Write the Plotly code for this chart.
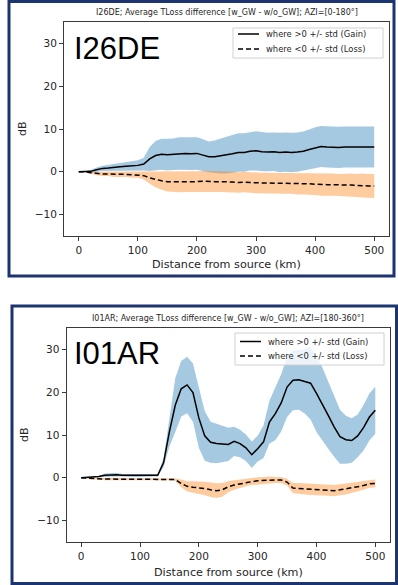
import numpy as np
import plotly.graph_objects as go

# ---------------- data ----------------
distance_km = list(range(0, 501, 10))

# Panel 1: I26DE, AZI=[0-180°]
i26_gain = [0.0, 0.0, 0.1, 0.5, 0.8, 0.9, 1.1, 1.2, 1.3, 1.4, 1.5,
            1.8, 3.0, 3.8, 4.1, 4.0, 4.1, 4.3, 4.3, 4.2, 4.3, 3.9, 3.5, 3.5, 3.7,
            3.9, 4.2, 4.5, 4.5, 4.8, 4.9, 4.7, 4.6, 4.7, 4.5, 4.6, 4.5, 4.6, 4.8, 5.2,
            5.6, 5.9, 5.8, 5.7, 5.7, 5.8, 5.8, 5.9, 5.9, 5.8, 5.8]
i26_gain_std = [0.0, 0.1, 0.3, 0.5, 0.6, 0.7, 0.8, 0.9, 1.0, 1.1, 1.2,
                1.5, 2.8, 3.4, 3.6, 3.7, 3.7, 3.8, 3.8, 3.8, 3.8, 3.7, 3.6, 3.8, 4.1,
                4.3, 4.4, 4.5, 4.5, 4.5, 4.6, 4.6, 4.5, 4.5, 4.6, 4.6, 4.6, 4.6, 4.6, 4.7,
                4.8, 4.8, 4.8, 4.8, 4.8, 4.8, 4.8, 4.8, 4.8, 4.8, 4.8]
i26_loss = [0.0, 0.0, -0.2, -0.4, -0.5, -0.5, -0.6, -0.6, -0.6, -0.7, -0.7,
            -0.9, -1.4, -1.8, -2.1, -2.3, -2.3, -2.4, -2.3, -2.3, -2.3, -2.2, -2.3, -2.3, -2.3,
            -2.3, -2.4, -2.5, -2.4, -2.5, -2.6, -2.6, -2.6, -2.7, -2.7, -2.7, -2.7, -2.8, -2.8, -2.8,
            -2.9, -3.0, -3.0, -3.0, -3.1, -3.1, -3.1, -3.2, -3.2, -3.3, -3.3]
i26_loss_std = [0.0, 0.1, 0.3, 0.4, 0.5, 0.5, 0.6, 0.6, 0.6, 0.7, 0.7,
                0.9, 1.4, 1.8, 2.1, 2.3, 2.4, 2.4, 2.4, 2.4, 2.4, 2.4, 2.4, 2.4, 2.4,
                2.4, 2.4, 2.4, 2.4, 2.4, 2.4, 2.4, 2.4, 2.4, 2.4, 2.4, 2.4, 2.5, 2.5, 2.5,
                2.5, 2.6, 2.6, 2.6, 2.6, 2.7, 2.7, 2.7, 2.8, 2.8, 2.8]

# Panel 2: I01AR, AZI=[180-360°]
i01_gain = [0.0, 0.1, 0.1, 0.3, 0.6, 0.7, 0.7, 0.6, 0.6, 0.5, 0.5, 0.5, 0.6, 0.6,
            3.5, 10.8, 17.0, 20.8, 21.7, 19.9, 14.0, 9.8, 8.3, 8.0,
            7.9, 7.8, 8.5, 8.0, 7.0, 5.4, 6.8, 8.4, 13.0, 15.0,
            17.5, 21.2, 22.8, 22.9, 22.5, 22.1, 19.7, 17.3, 14.6, 11.9,
            9.6, 8.9, 8.7, 9.8, 11.7, 14.2, 15.8]
i01_gain_std = [0.0, 0.1, 0.1, 0.2, 0.4, 0.4, 0.4, 0.3, 0.3, 0.3, 0.3, 0.3, 0.3, 0.3,
                1.0, 3.5, 6.3, 6.5, 6.6, 6.8, 7.0, 5.8, 4.8, 4.6,
                4.2, 3.9, 3.4, 3.2, 3.1, 3.1, 3.0, 3.8, 5.0, 6.2,
                6.7, 7.0, 7.0, 7.0, 7.5, 8.5, 9.0, 8.5, 7.8, 7.0,
                6.3, 5.6, 5.2, 5.0, 5.3, 5.5, 5.5]
i01_loss = [0.0, -0.1, -0.2, -0.2, -0.3, -0.3, -0.3, -0.3, -0.3, -0.3, -0.3, -0.3, -0.3, -0.3, -0.3, -0.3, -0.4,
            -1.3, -2.0, -2.2, -2.3, -2.5, -2.8, -3.0, -2.8, -2.1, -1.7,
            -1.4, -1.1, -0.9, -0.7, -0.6, -0.5, -0.5, -0.5, -1.0, -2.4,
            -2.5, -2.6, -2.7, -2.8, -2.9, -2.9, -3.0, -2.8, -2.6, -2.4,
            -2.1, -1.8, -1.4, -1.3]
i01_loss_std = [0.0, 0.1, 0.2, 0.2, 0.3, 0.3, 0.3, 0.3, 0.3, 0.3, 0.3, 0.3, 0.3, 0.3, 0.3, 0.3, 0.3,
                0.9, 1.2, 1.4, 1.5, 1.6, 1.7, 1.7, 1.6, 1.3, 1.1,
                1.0, 0.9, 0.8, 0.8, 0.8, 0.8, 0.7, 0.7, 0.8, 1.2,
                1.3, 1.3, 1.3, 1.3, 1.3, 1.3, 1.3, 1.3, 1.3, 1.2,
                1.1, 1.0, 0.9, 0.9]

x_ticks = [0, 100, 200, 300, 400, 500]
y_ticks = [-10, 0, 10, 20, 30]
station_labels = ["I26DE", "I01AR"]
panel_titles = ["I26DE; Average TLoss difference [w_GW - w/o_GW]; AZI=[0-180°]",
                "I01AR; Average TLoss difference [w_GW - w/o_GW]; AZI=[180-360°]"]
legend_labels = ["where >0 +/- std (Gain)", "where <0 +/- std (Loss)"]
x_title = "Distance from source (km)"
y_title = "dB"

# ---------------- layout helpers ----------------
W, H = 398, 585
def px(p):
    return p / W
def py(p):
    return 1 - p / H

BLUE_FILL = "rgba(31,119,180,0.4)"
ORANGE_FILL = "rgba(255,127,14,0.4)"
FONT = "DejaVu Sans"
TXT = "#262626"

fig = go.Figure()

panels = [
    dict(gain=i26_gain, gstd=i26_gain_std, loss=i26_loss, lstd=i26_loss_std,
         xa="x", ya="y", dom_x=(64, 389), dom_y=(22, 236)),
    dict(gain=i01_gain, gstd=i01_gain_std, loss=i01_loss, lstd=i01_loss_std,
         xa="x2", ya="y2", dom_x=(66.5, 390), dom_y=(328, 542)),
]

km = np.array(distance_km, dtype=float)
for p in panels:
    g = np.array(p["gain"]); gs = np.array(p["gstd"])
    l = np.array(p["loss"]); ls = np.array(p["lstd"])
    for mean, sd, col in [(g, gs, BLUE_FILL), (l, ls, ORANGE_FILL)]:
        fig.add_trace(go.Scatter(
            x=np.concatenate([km, km[::-1]]),
            y=np.concatenate([mean + sd, (mean - sd)[::-1]]),
            fill="toself", fillcolor=col, line=dict(width=0),
            mode="lines", hoverinfo="skip", showlegend=False,
            xaxis=p["xa"], yaxis=p["ya"]))
    fig.add_trace(go.Scatter(x=km, y=g, mode="lines",
                             line=dict(color="black", width=1.5),
                             showlegend=False, xaxis=p["xa"], yaxis=p["ya"]))
    fig.add_trace(go.Scatter(x=km, y=l, mode="lines",
                             line=dict(color="black", width=1.5, dash="5px,3px"),
                             showlegend=False, xaxis=p["xa"], yaxis=p["ya"]))

axis_common = dict(showgrid=False, zeroline=False, showline=True, mirror=True,
                   linecolor="#3a3a3a", linewidth=1, ticks="outside", ticklen=4,
                   tickcolor="#3a3a3a", tickfont=dict(family=FONT, size=10.5, color=TXT))

layout = dict(width=W, height=H, margin=dict(l=0, r=0, t=0, b=0),
              paper_bgcolor="white", plot_bgcolor="white", showlegend=False)
for i, p in enumerate(panels):
    sx = "" if i == 0 else str(i + 1)
    layout["xaxis" + sx] = dict(axis_common, domain=[px(p["dom_x"][0]), px(p["dom_x"][1])],
                                range=[-25, 525], tickvals=x_ticks, anchor="y" + sx)
    layout["yaxis" + sx] = dict(axis_common, domain=[py(p["dom_y"][1]), py(p["dom_y"][0])],
                                range=[-15, 35], tickvals=y_ticks, anchor="x" + sx)
fig.update_layout(**layout)

annotations = []
shapes = []

# panel frames
frames = [(9, 1.5, 394, 276), (12, 306, 396.5, 583.5)]
for (x0, y0, x1, y1) in frames:
    shapes.append(dict(type="rect", xref="paper", yref="paper",
                       x0=px(x0), x1=px(x1), y0=py(y1), y1=py(y0),
                       line=dict(color="#1c3470", width=3), fillcolor="rgba(0,0,0,0)",
                       layer="above"))

title_y = [12, 319]
xlabel_y = [265, 572]
ylabel_x = [22, 24]
big_y = [48.5, 353.5]
legend_boxes = [(233, 28, 383, 58, 34, 49), (235, 333, 384, 365, 341.5, 356)]

for i, p in enumerate(panels):
    cx = (p["dom_x"][0] + p["dom_x"][1]) / 2
    cy = (p["dom_y"][0] + p["dom_y"][1]) / 2
    annotations.append(dict(text=panel_titles[i], xref="paper", yref="paper",
                            x=px(cx), y=py(title_y[i]), xanchor="center", yanchor="middle",
                            showarrow=False, font=dict(family=FONT, size=8.0, color=TXT)))
    annotations.append(dict(text=x_title, xref="paper", yref="paper",
                            x=px(cx), y=py(xlabel_y[i]), xanchor="center", yanchor="middle",
                            showarrow=False, font=dict(family=FONT, size=11.2, color=TXT)))
    annotations.append(dict(text=y_title, xref="paper", yref="paper", textangle=-90,
                            x=px(ylabel_x[i]), y=py(cy), xanchor="center", yanchor="middle",
                            showarrow=False, font=dict(family=FONT, size=11, color=TXT)))
    annotations.append(dict(text=station_labels[i], xref="paper", yref="paper",
                            x=px(72), y=py(big_y[i]), xanchor="left", yanchor="middle",
                            showarrow=False, font=dict(family="Liberation Sans", size=31, color="black")))
    # legend
    bx0, by0, bx1, by1, r1, r2 = legend_boxes[i]
    shapes.append(dict(type="rect", xref="paper", yref="paper",
                       x0=px(bx0), x1=px(bx1), y0=py(by1), y1=py(by0),
                       line=dict(color="#d0d0d0", width=1), fillcolor="rgba(255,255,255,0.8)",
                       layer="above"))
    for row_y, dash, lab in [(r1, "solid", legend_labels[0]), (r2, "5px,3px", legend_labels[1])]:
        shapes.append(dict(type="line", xref="paper", yref="paper",
                           x0=px(bx0 + 5), x1=px(bx0 + 26), y0=py(row_y), y1=py(row_y),
                           line=dict(color="black", width=1.5, dash=dash), layer="above"))
        annotations.append(dict(text=lab, xref="paper", yref="paper",
                                x=px(bx0 + 31), y=py(row_y), xanchor="left", yanchor="middle",
                                showarrow=False, font=dict(family=FONT, size=8.4, color=TXT)))

fig.update_layout(annotations=annotations, shapes=shapes)
fig.write_html("out.html")
